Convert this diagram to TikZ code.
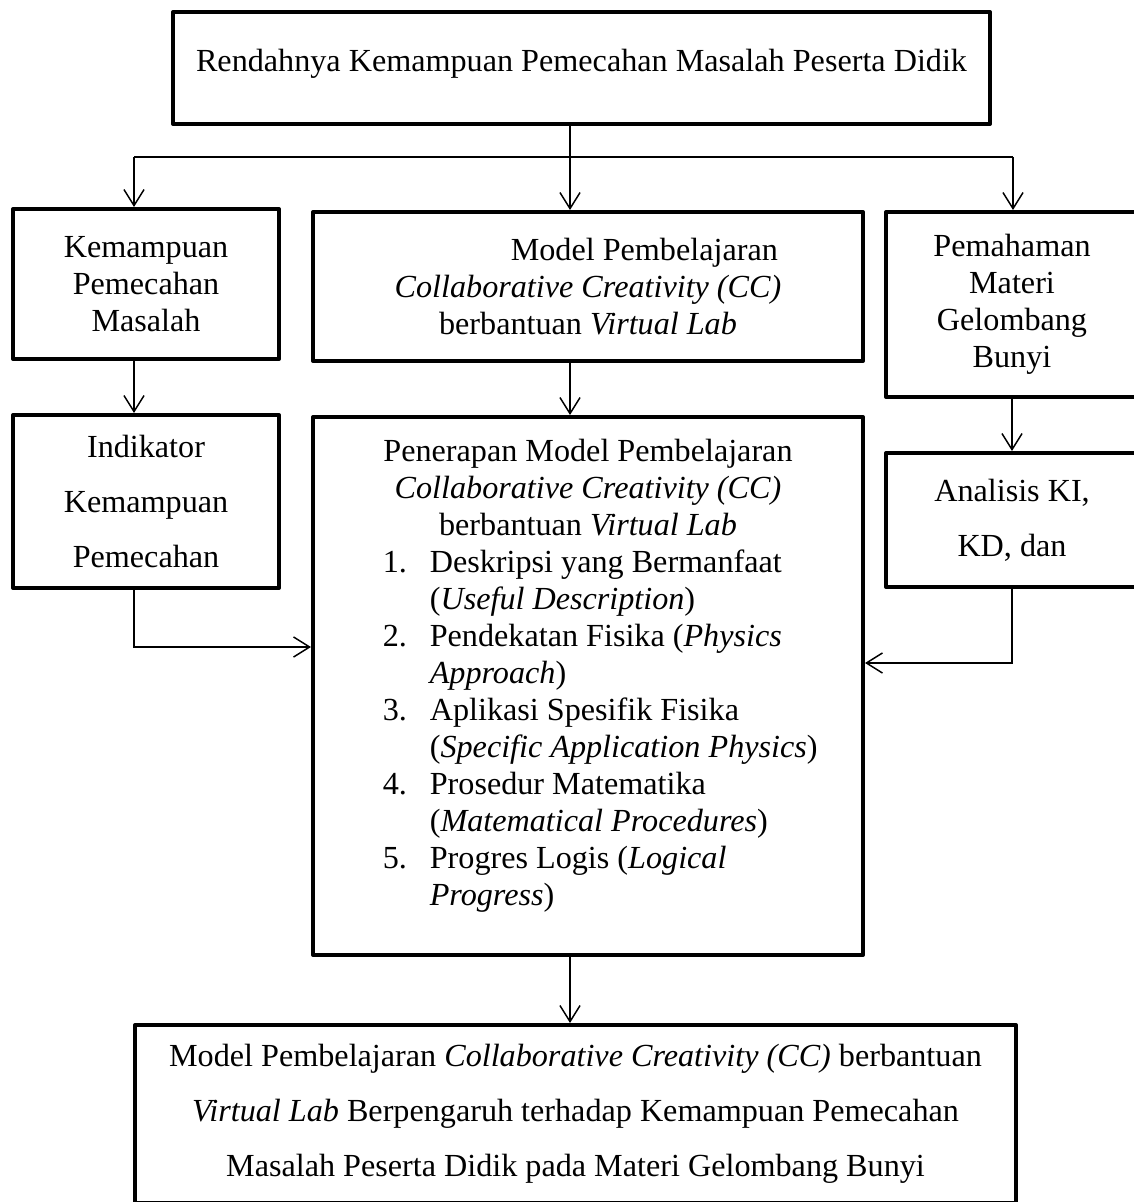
\documentclass[tikz,border=0pt]{standalone}
\usepackage{fontspec}
\setmainfont{Liberation Serif}
\usetikzlibrary{arrows.meta}

\newcommand{\itemline}[2]{\makebox[153pt][l]{\makebox[17.5pt][l]{#1}#2}}

\begin{document}
\begin{tikzpicture}[x=0.373pt, y=-0.373pt,
  box/.style={draw, line width=1.5pt, line join=round, inner sep=0pt, align=center,
    font=\fontsize{12}{13.8}\selectfont},
  wide/.style={font=\fontsize{12}{20.5}\selectfont},
  sz/.style 2 args={minimum width=#1*0.373pt, minimum height=#2*0.373pt},
  arr/.style={-{Straight Barb[length=6pt,width=7.5pt]}, line width=0.55pt}]
\useasboundingbox (0,0) rectangle (1134,1202);
\node[box, sz={817}{112}, text depth=6pt] (masalah) at (581.5,68) {Rendahnya Kemampuan Pemecahan Masalah Peserta Didik};
\node[box, sz={266}{150}] (kps) at (146,284) {Kemampuan\\Pemecahan\\Masalah};
\node[box, sz={550}{149}] (model) at (588,286.5) {\hspace*{42pt}Model Pembelajaran\\\textit{Collaborative Creativity (CC)}\\berbantuan \textit{Virtual Lab}};
\node[box, sz={252}{185}] (materi) at (1012,304.5) {Pemahaman\\Materi\\Gelombang\\Bunyi};
\node[box, wide, sz={266}{173}] (indikator) at (146,501.5) {Indikator\\Kemampuan\\Pemecahan};
\node[box, sz={550}{538}, text depth=10pt] (penerapan) at (588,686) {Penerapan Model Pembelajaran\\
  \textit{Collaborative Creativity (CC)}\\
  berbantuan \textit{Virtual Lab}\\
  \itemline{1.}{Deskripsi yang Bermanfaat}\\
  \itemline{}{(\textit{Useful Description})}\\
  \itemline{2.}{Pendekatan Fisika (\textit{Physics}}\\
  \itemline{}{\textit{Approach})}\\
  \itemline{3.}{Aplikasi Spesifik Fisika}\\
  \itemline{}{(\textit{Specific Application Physics})}\\
  \itemline{4.}{Prosedur Matematika}\\
  \itemline{}{(\textit{Matematical Procedures})}\\
  \itemline{5.}{Progres Logis (\textit{Logical}}\\
  \itemline{}{\textit{Progress})}};
\node[box, wide, sz={252}{134}] (analisis) at (1012,520) {Analisis KI,\\KD, dan};
\node[box, wide, sz={881}{178}] (hasil) at (575.5,1114) {Model Pembelajaran \textit{Collaborative Creativity (CC)} berbantuan\\
  \textit{Virtual Lab} Berpengaruh terhadap Kemampuan Pemecahan\\
  Masalah Peserta Didik pada Materi Gelombang Bunyi};
\coordinate (fork) at (570,157);
\coordinate (forkl) at (134,157);
\coordinate (forkr) at (1013,157);
\draw[line width=0.55pt] (fork |- masalah.south) -- (fork);
\draw[line width=0.55pt] (forkl) -- (forkr);
\draw[arr] (forkl) -- (forkl |- kps.north);
\draw[arr] (fork) -- (fork |- model.north);
\draw[arr] (forkr) -- (forkr |- materi.north);
\draw[arr] (forkl |- kps.south) -- (forkl |- indikator.north);
\draw[arr] (fork |- model.south) -- (fork |- penerapan.north);
\draw[arr] (materi.south) -- (analisis.north);
\draw[arr] (forkl |- indikator.south) |- (penerapan.west |- 0,647);
\draw[arr] (analisis.south) |- (penerapan.east |- 0,663);
\draw[arr] (fork |- penerapan.south) -- (fork |- hasil.north);
\end{tikzpicture}
\end{document}
